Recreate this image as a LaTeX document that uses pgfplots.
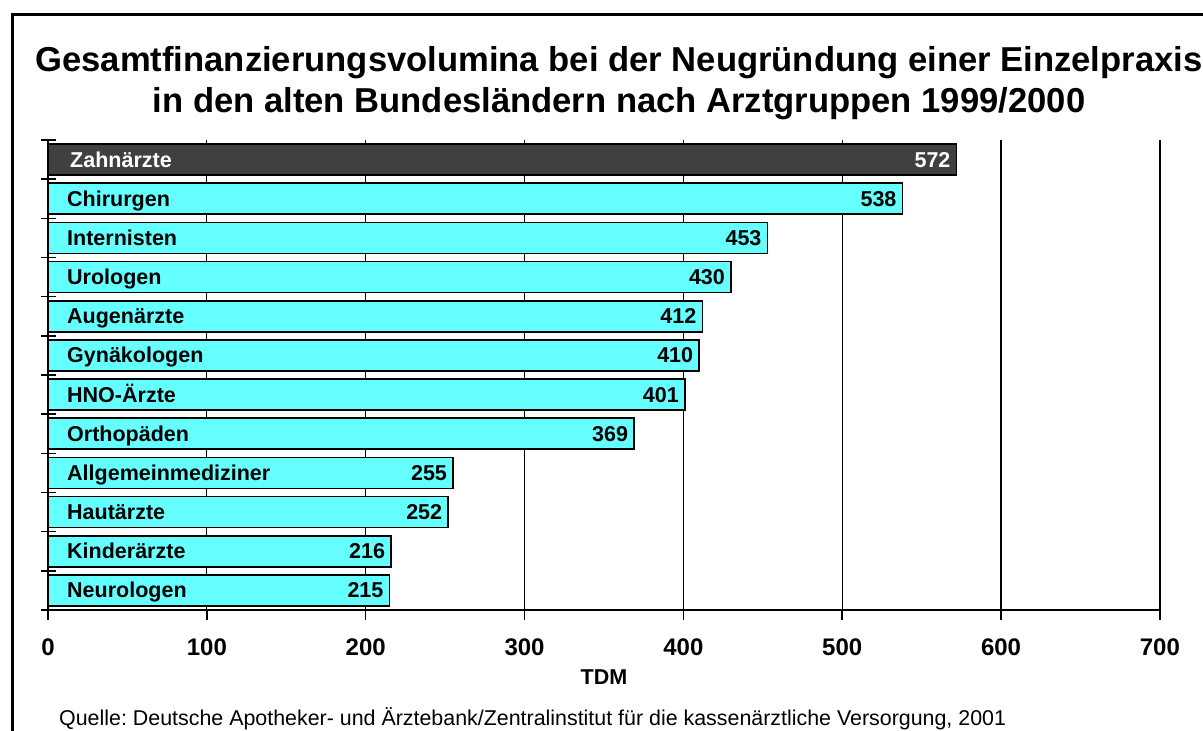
\documentclass[border=0pt]{standalone}
\usepackage{pgfplots}
\pgfplotsset{compat=1.18}
\usepackage{fontspec}
\setmainfont{Liberation Sans}
\definecolor{barcyan}{RGB}{102,255,255}
\definecolor{bardark}{RGB}{64,64,64}
\tikzset{catlab/.style={anchor=base west, inner sep=0, font=\fontsize{21.5}{21.5}\selectfont\bfseries, xshift=19pt, yshift=-7.5pt}}
\frenchspacing
\begin{document}
\begin{tikzpicture}
\useasboundingbox (0pt,0pt) rectangle (1203pt,-731pt);
\draw[line width=2.5pt] (12.5pt,-731pt) -- (12.5pt,-14.5pt) -- (1203pt,-14.5pt);
\node[anchor=base, inner sep=0, font=\fontsize{34.6}{40}\selectfont\bfseries] at (619pt,-71pt) {Gesamtfinanzierungsvolumina bei der Neugründung einer Einzelpraxis};
\node[anchor=base, inner sep=0, font=\fontsize{34.6}{40}\selectfont\bfseries] at (619pt,-112pt) {in den alten Bundesländern nach Arztgruppen 1999/2000};
\node[anchor=base west, inner sep=0, font=\fontsize{21.4}{21}\selectfont] at (59pt,-725pt) {\frenchspacing Quelle: Deutsche Apotheker- und Ärztebank/Zentralinstitut für die kassenärztliche Versorgung, 2001};
\begin{axis}[
  at={(48pt,-610pt)}, anchor=south west,
  scale only axis, width=1112pt, height=470pt,
  xmin=0, xmax=700, ymin=0.5, ymax=12.5,
  clip=false,
  axis x line*=bottom, axis y line*=left,
  xtick={0,100,...,700},
  ytick={0.5,1.5,...,12.5}, yticklabels={},
  major tick length=0pt,
  xmajorgrids, grid style={black, line width=1.3pt},
  axis line style={line width=1.8pt}, tick style={black, line width=1.5pt},
  xticklabel style={font=\fontsize{24}{24}\selectfont\bfseries, yshift=-25pt},
  /pgf/number format/assume math mode=true,
  xlabel={TDM}, xlabel style={font=\fontsize{21.5}{21.5}\selectfont\bfseries, yshift=-7pt},
  xbar, bar width=31pt, bar shift=0pt,
]
\addplot[xbar, bar shift=0pt, fill=barcyan, draw=black, line width=1.6pt,
  nodes near coords,
  every node near coord/.append style={anchor=base east, xshift=-2pt, yshift=-7.5pt, font=\fontsize{21.5}{21.5}\selectfont\bfseries, black}]
  coordinates {(215,1) (216,2) (252,3) (255,4) (369,5) (401,6) (410,7) (412,8) (430,9) (453,10) (538,11)};
\addplot[xbar, bar shift=0pt, fill=bardark, draw=black, line width=1.6pt,
  nodes near coords,
  every node near coord/.append style={anchor=base east, xshift=-2pt, yshift=-7.5pt, font=\fontsize{21.5}{21.5}\selectfont\bfseries, white}]
  coordinates {(572,12)};
\pgfplotsinvokeforeach{0.5,1.5,...,12.5}{\draw[line width=1.5pt] ([xshift=-7pt]axis cs:0,#1) -- ([xshift=8pt]axis cs:0,#1);}
\pgfplotsinvokeforeach{0,100,...,700}{\draw[line width=1.5pt] (axis cs:#1,0.5) -- ([yshift=-10pt]axis cs:#1,0.5);}
\node[catlab, white, xshift=3pt] at (axis cs:0,12) {Zahnärzte};
\node[catlab] at (axis cs:0,11) {Chirurgen};
\node[catlab] at (axis cs:0,10) {Internisten};
\node[catlab] at (axis cs:0,9) {Urologen};
\node[catlab] at (axis cs:0,8) {Augenärzte};
\node[catlab] at (axis cs:0,7) {Gynäkologen};
\node[catlab] at (axis cs:0,6) {HNO-Ärzte};
\node[catlab] at (axis cs:0,5) {Orthopäden};
\node[catlab] at (axis cs:0,4) {Allgemeinmediziner};
\node[catlab] at (axis cs:0,3) {Hautärzte};
\node[catlab] at (axis cs:0,2) {Kinderärzte};
\node[catlab] at (axis cs:0,1) {Neurologen};
\end{axis}
\end{tikzpicture}
\end{document}
